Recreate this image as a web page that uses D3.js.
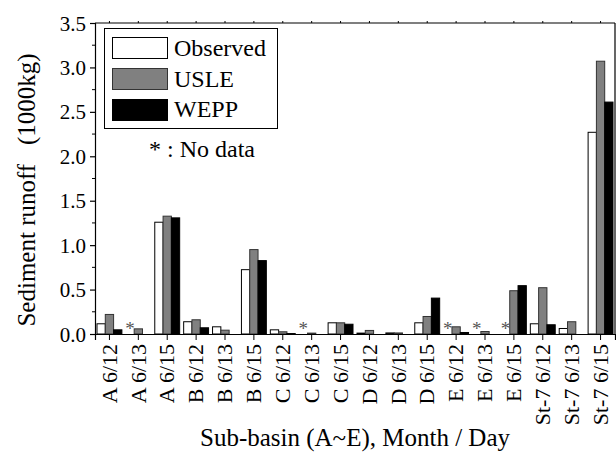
<!DOCTYPE html>
<html>
<head>
<meta charset="utf-8">
<script src="https://unpkg.com/d3@7/dist/d3.min.js"></script>
<style>
  body { margin: 0; background: #fff; }
  svg text { font-family: "Liberation Serif", "Times New Roman", serif; fill: #000; }
</style>
</head>
<body>
<div id="chart"></div>
<script>
const categories = ["A 6/12", "A 6/13", "A 6/15", "B 6/12", "B 6/13", "B 6/15",
  "C 6/12", "C 6/13", "C 6/15", "D 6/12", "D 6/13", "D 6/15",
  "E 6/12", "E 6/13", "E 6/15", "St-7 6/12", "St-7 6/13", "St-7 6/15"];
// null = no data (drawn as *)
const observed = [0.115, null, 1.258, 0.138, 0.081, 0.724, 0.047, null, 0.126, 0.01, 0.012, 0.126, null, null, null, 0.115, 0.062, 2.27];
const usle =     [0.22, 0.058, 1.326, 0.16, 0.043, 0.95, 0.025, 0.01, 0.126, 0.04, 0.012, 0.197, 0.081, 0.028, 0.487, 0.521, 0.138, 3.07];
const wepp =     [0.047, 0, 1.307, 0.07, 0, 0.826, 0.005, 0, 0.11, 0, 0, 0.404, 0.017, 0, 0.544, 0.104, 0, 2.61];
const seriesNames = ["Observed", "USLE", "WEPP"];
const yTicks = [0.0, 0.5, 1.0, 1.5, 2.0, 2.5, 3.0, 3.5];

const width = 616, height = 452;
const margin = {top: 23, right: 1, bottom: 118, left: 95};

const svg = d3.select("#chart").append("svg")
  .attr("width", width).attr("height", height);

const x = d3.scaleBand().domain(categories)
  .range([margin.left, width - margin.right]).paddingInner(0).paddingOuter(0);
const y = d3.scaleLinear().domain([0, 3.5]).range([height - margin.bottom, margin.top]);

const series = [
  {name: "Observed", values: observed, fill: "#fff", stroke: "#000"},
  {name: "USLE", values: usle, fill: "#808080", stroke: "#333"},
  {name: "WEPP", values: wepp, fill: "#000", stroke: "#000"}
];

const barW = 8.3;
const groupOffset = (x.bandwidth() - barW * 3) / 2;

series.forEach((s, si) => {
  svg.append("g").selectAll("rect")
    .data(categories.map((c, i) => ({c, v: s.values[i]})).filter(d => d.v !== null && d.v > 0))
    .enter().append("rect")
    .attr("x", d => x(d.c) + groupOffset + si * barW)
    .attr("y", d => y(d.v))
    .attr("width", barW)
    .attr("height", d => y(0) - y(d.v))
    .attr("fill", s.fill)
    .attr("stroke", s.stroke)
    .attr("stroke-width", 1);
});

// no data asterisks
svg.append("g").selectAll("text")
  .data(categories.filter((c, i) => observed[i] === null))
  .enter().append("text")
  .attr("x", d => x(d) + groupOffset + barW / 2)
  .attr("y", y(0) + 1)
  .attr("text-anchor", "middle")
  .attr("font-size", 19)
  .style("fill", "#555")
  .text("*");

// axes
const yAxis = d3.axisLeft(y).tickValues(yTicks).tickFormat(d3.format(".1f")).tickSize(5).tickPadding(4);
const gy = svg.append("g").attr("transform", `translate(${margin.left},0)`).call(yAxis);
gy.selectAll("text").attr("font-size", 21).attr("dy", "0.34em");
gy.select(".domain").attr("stroke-width", 1.2);
gy.selectAll(".tick line").attr("stroke-width", 1.2);

// minor ticks
const minor = d3.range(0.25, 3.5, 0.5);
svg.append("g").selectAll("line").data(minor).enter().append("line")
  .attr("x1", margin.left - 3).attr("x2", margin.left)
  .attr("y1", d => y(d)).attr("y2", d => y(d))
  .attr("stroke", "#000");

const xAxis = d3.axisBottom(x).tickSize(6).tickPadding(4);
const gx = svg.append("g").attr("transform", `translate(0,${y(0)})`).call(xAxis);
gx.select(".domain").attr("stroke-width", 1.2);
gx.selectAll("text")
  .attr("font-size", 22)
  .attr("transform", "rotate(-90)")
  .attr("text-anchor", "end")
  .attr("x", -10).attr("y", 0).attr("dy", "0.33em");

// top and right frame
svg.append("line").attr("x1", margin.left).attr("x2", width - margin.right)
  .attr("y1", margin.top).attr("y2", margin.top).attr("stroke", "#000").attr("stroke-width", 1.2);
svg.append("g").selectAll("line").data(categories).enter().append("line")
  .attr("x1", d => x(d) + x.bandwidth() / 2).attr("x2", d => x(d) + x.bandwidth() / 2)
  .attr("y1", margin.top - 2).attr("y2", margin.top).attr("stroke", "#000");
svg.append("line").attr("x1", width - margin.right).attr("x2", width - margin.right)
  .attr("y1", margin.top).attr("y2", y(0)).attr("stroke", "#000").attr("stroke-width", 1.2);

// axis titles
svg.append("text")
  .attr("transform", "translate(35,190) rotate(-90)")
  .attr("text-anchor", "middle")
  .attr("font-size", 25)
  .text("Sediment runoff\u00a0\u00a0\u00a0(1000kg)");

svg.append("text")
  .attr("x", 355).attr("y", 446)
  .attr("text-anchor", "middle")
  .attr("font-size", 25)
  .text("Sub-basin (A~E), Month / Day");

// legend
const lg = svg.append("g");
lg.append("rect").attr("x", 104.5).attr("y", 28.5).attr("width", 173).attr("height", 100)
  .attr("fill", "#fff").attr("stroke", "#000");
series.forEach((s, i) => {
  lg.append("rect").attr("x", 112.5).attr("y", 37.5 + i * 31).attr("width", 55).attr("height", 21)
    .attr("fill", s.fill).attr("stroke", s.stroke);
  lg.append("text").attr("x", 174).attr("y", 56 + i * 30.5).attr("font-size", 24).text(seriesNames[i]);
});
svg.append("text").attr("x", 149).attr("y", 157).attr("font-size", 24).text("* : No data");
</script>
</body>
</html>
